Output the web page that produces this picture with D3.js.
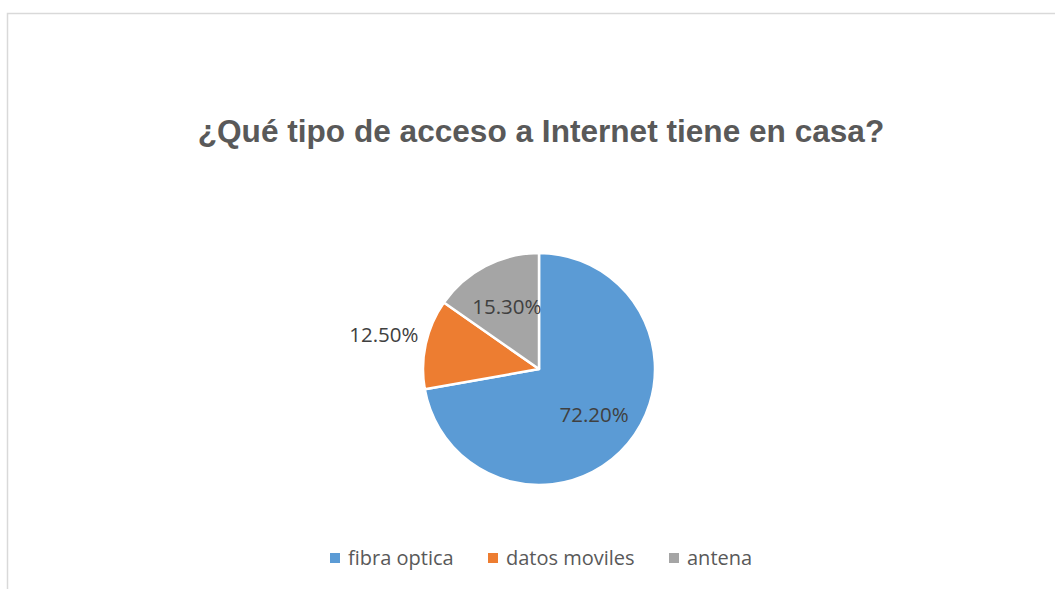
<!DOCTYPE html>
<html>
<head>
<meta charset="utf-8">
<script src="https://cdn.jsdelivr.net/npm/d3@7"></script>
<style>
  html, body { margin: 0; padding: 0; background: #fff; }
  svg { display: block; }
</style>
</head>
<body>
<div id="chart"></div>
<script>
// datos del gráfico
var categories = ["fibra optica", "datos moviles", "antena"];
var values = [72.2, 12.5, 15.3];
var labels = ["72.20%", "12.50%", "15.30%"];
var colors = ["#5B9BD5", "#ED7D31", "#A5A5A5"];
var title = "¿Qué tipo de acceso a Internet tiene en casa?";

// posición de la etiqueta (relativa al radio), como el "mejor ajuste" de Excel
var labelRadius = [0.62, 1.37, 0.6];

var width = 1055;
var height = 589;
var cx = 539, cy = 369, radius = 116;

var svg = d3.select("#chart")
  .append("svg")
  .attr("width", width)
  .attr("height", height);

// marco del gráfico
svg.append("rect")
  .attr("x", 7.5)
  .attr("y", 13.5)
  .attr("width", 1100)
  .attr("height", 700)
  .attr("fill", "#fff")
  .attr("stroke", "#d9d9d9")
  .attr("stroke-width", 1.5);

// título
svg.append("text")
  .attr("x", 541)
  .attr("y", 142)
  .attr("text-anchor", "middle")
  .attr("font-family", "'Liberation Sans', Arial, sans-serif")
  .attr("font-weight", "bold")
  .attr("font-size", 31.6)
  .attr("fill", "#595959")
  .text(title);

var pieData = categories.map((c, i) => ({ category: c, value: values[i], label: labels[i], color: colors[i], lr: labelRadius[i] }));

var pie = d3.pie()
  .sort(null)
  .value(d => d.value);

var arc = d3.arc()
  .innerRadius(0)
  .outerRadius(radius);

var g = svg.append("g")
  .attr("transform", "translate(" + cx + "," + cy + ")");

var arcs = pie(pieData);

g.selectAll("path")
  .data(arcs)
  .enter()
  .append("path")
  .attr("d", arc)
  .attr("fill", d => d.data.color)
  .attr("stroke", "#fff")
  .attr("stroke-width", 2.5)
  .attr("stroke-linejoin", "round");

// etiquetas de datos
g.selectAll("text")
  .data(arcs)
  .enter()
  .append("text")
  .attr("transform", d => {
    var a = (d.startAngle + d.endAngle) / 2;
    var r = radius * d.data.lr;
    return "translate(" + (r * Math.sin(a)) + "," + (-r * Math.cos(a)) + ")";
  })
  .attr("text-anchor", "middle")
  .attr("dy", "0.35em")
  .attr("font-family", "'Open Sans', sans-serif")
  .attr("font-size", 20.5)
  .attr("fill", "#404040")
  .text(d => d.data.label);

// leyenda
var legendX = [330, 488, 669];
var legend = svg.append("g");

var items = legend.selectAll("g")
  .data(pieData)
  .enter()
  .append("g")
  .attr("transform", (d, i) => "translate(" + legendX[i] + ",558)");

items.append("rect")
  .attr("x", 0)
  .attr("y", -5)
  .attr("width", 10)
  .attr("height", 10)
  .attr("fill", d => d.color);

items.append("text")
  .attr("x", 18)
  .attr("dy", "0.35em")
  .attr("font-family", "'Open Sans', sans-serif")
  .attr("font-size", 20)
  .attr("fill", "#595959")
  .text(d => d.category);
</script>
</body>
</html>
